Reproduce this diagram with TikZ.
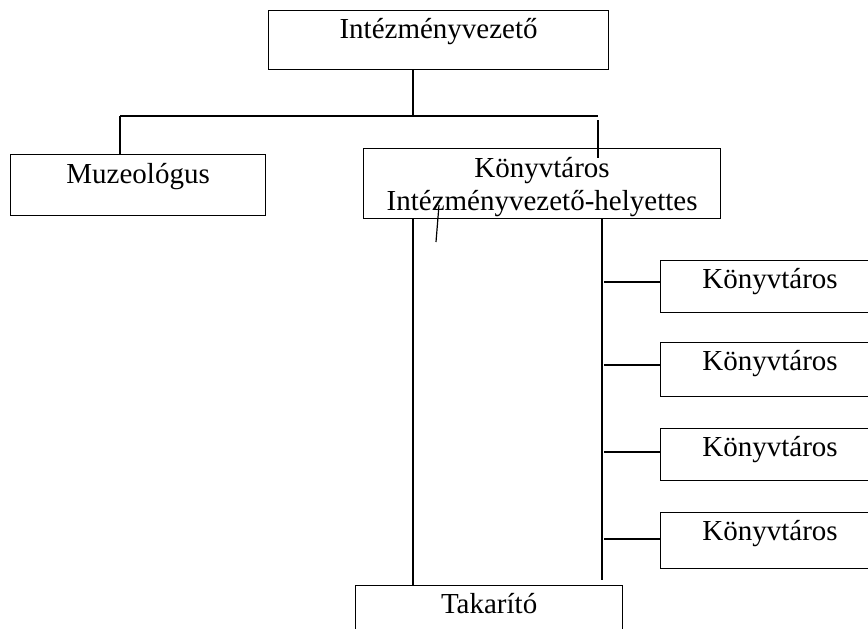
\documentclass[tikz,border=0pt]{standalone}
\usepackage{fontspec}
\setmainfont{Liberation Serif}
\usetikzlibrary{positioning}

\begin{document}
\begin{tikzpicture}[x=1pt,y=-1pt,line width=1.2pt,
	orgbox/.style={draw,rectangle,inner xsep=0pt,inner ysep=0pt,anchor=north west,font=\fontsize{29}{33}\selectfont},
	]
\useasboundingbox (0,0) rectangle (868,629);
\clip (0,0) rectangle (868,629);
% boxes
\node[orgbox,minimum width=340pt,text height=28pt,text depth=31pt] (leader) at (268,10) {Intézményvezető};
\node[orgbox,minimum width=255pt,text height=29pt,text depth=32pt] (muzeo) at (10,154) {Muzeológus};
\node[orgbox,minimum width=357pt,text height=62pt,text depth=8pt,align=center] (helyettes) at (363,148) {Könyvtáros\\Intézményvezető-helyettes};
\node[orgbox,minimum width=267pt,text height=28pt,text depth=40pt] (takarito) at (355,585) {Takarító};
\foreach \i/\top/\dep in {1/260/24,2/342/26,3/428/24,4/512/28}
	{\node[orgbox,minimum width=219pt,text height=28pt,text depth=\dep pt] (konyv\i) at (660,\top) {Könyvtáros};}
% top fork
\coordinate (fork) at (413,116);
\coordinate (mdrop) at (120,116);
\coordinate (hfork) at (598,116);
\coordinate (hdrop) at (598,120);
\draw (leader.south -| fork) -- (fork);
\draw (mdrop) -- (hfork);
\draw (mdrop) -- (mdrop |- muzeo.north);
\draw (hdrop) -- ++(0,38);
% columns below the deputy
\coordinate (lcol) at (413,218);
\coordinate (rcol) at (602,218);
\coordinate (rend) at (602,580);
\draw (lcol) -- (lcol |- takarito.north);
\draw (rcol) -- (rend);
\draw (439,205) -- (436,242);
\foreach \i/\y in {1/282,2/365,3/452,4/539}
	{\coordinate (b\i) at (604,\y);
	\draw (b\i) -- (b\i -| konyv\i.west);}
\end{tikzpicture}
\end{document}
